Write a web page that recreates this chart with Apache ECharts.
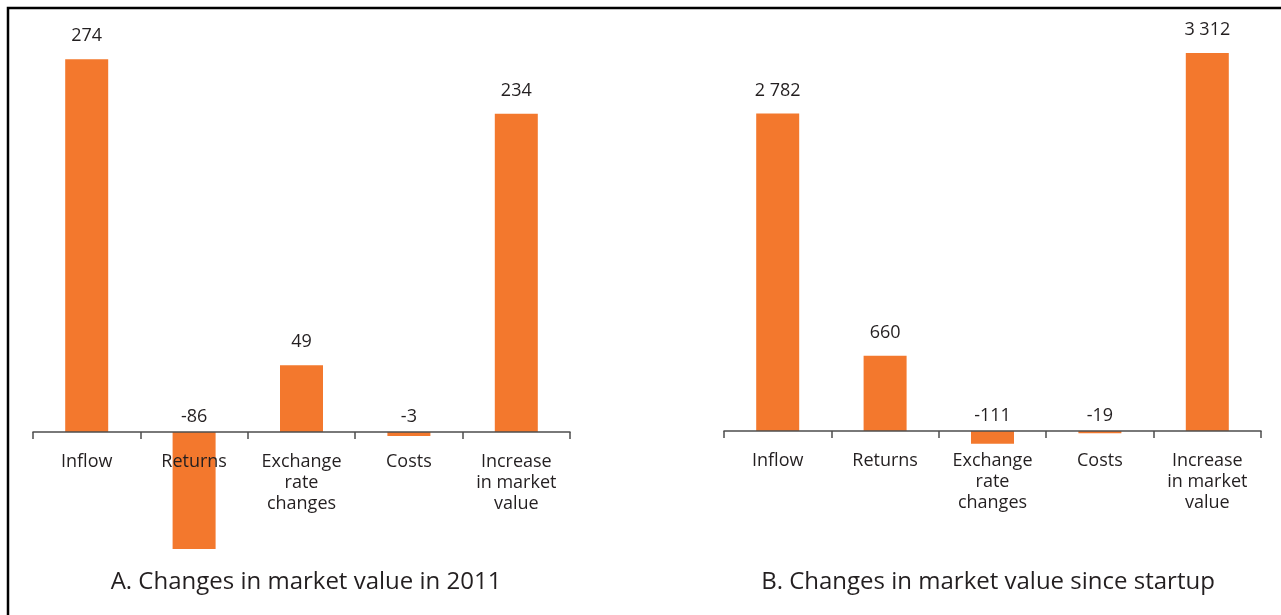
<!DOCTYPE html>
<html>
<head>
<meta charset="utf-8">
<script src="https://cdn.jsdelivr.net/npm/echarts@6/dist/echarts.min.js"></script>
<style>
  html, body { margin: 0; padding: 0; background: #fff; }
  #main { width: 1281px; height: 615px; }
</style>
</head>
<body>
<div id="main"></div>
<script>
var categories = ['Inflow', 'Returns', 'Exchange\nrate\nchanges', 'Costs', 'Increase\nin market\nvalue'];
var values2011 = [274, -86, 49, -3, 234];
var valuesStartup = [2782, 660, -111, -19, 3312];
var titleA = 'A. Changes in market value in 2011';
var titleB = 'B. Changes in market value since startup';

var barColor = '#f3782d';
var textColor = '#231f20';
var font = 'Open Sans';

// value ranges / grid boxes per panel
var gridA = { left: 33, width: 537, top: 24, height: 544, min: -100, max: 300 };
var gridB = { left: 724, width: 537, top: 20, height: 548, min: -1200, max: 3600 };

function fmt(v) {
  // space as thousands separator
  var s = String(Math.abs(v)).replace(/\B(?=(\d{3})+(?!\d))/g, ' ');
  return (v < 0 ? '-' : '') + s;
}

function barData(vals) {
  return vals.map(function (v) {
    return {
      value: v,
      label: { position: 'top', distance: v < 0 ? 6 : 14 }
    };
  });
}

function xAxisFor(idx, g) {
  // put the category axis on the zero line
  var zeroOffset = -g.height * (0 - g.min) / (g.max - g.min);
  return {
    type: 'category',
    gridIndex: idx,
    data: categories,
    position: 'bottom',
    offset: zeroOffset,
    z: 5,
    axisLine: { onZero: false, lineStyle: { color: '#4d4d4d', width: 1.5 } },
    axisTick: { show: true, length: 7, lineStyle: { color: '#4d4d4d', width: 1.5 } },
    axisLabel: {
      color: textColor, fontFamily: font, fontSize: 18, lineHeight: 21,
      margin: 19, interval: 0, align: 'center'
    }
  };
}

function gridFor(g) {
  return { left: g.left, width: g.width, top: g.top, height: g.height, outerBoundsMode: 'none', containLabel: false };
}

function seriesFor(idx, vals) {
  return {
    type: 'bar', xAxisIndex: idx, yAxisIndex: idx, barWidth: 43,
    z: 2,
    data: barData(vals),
    itemStyle: { color: barColor },
    label: {
      show: true, color: textColor, fontFamily: font, fontSize: 18,
      formatter: function (p) { return fmt(p.value); }
    }
  };
}

var chart = echarts.init(document.getElementById('main'), null, { renderer: 'canvas' });

var option = {
  animation: false,
  title: [
    { text: titleA, left: 301, top: 565, textAlign: 'center',
      textStyle: { color: textColor, fontFamily: font, fontSize: 24, fontWeight: 'normal' } },
    { text: titleB, left: 983, top: 565, textAlign: 'center',
      textStyle: { color: textColor, fontFamily: font, fontSize: 24, fontWeight: 'normal' } }
  ],
  grid: [gridFor(gridA), gridFor(gridB)],
  xAxis: [xAxisFor(0, gridA), xAxisFor(1, gridB)],
  yAxis: [
    { type: 'value', gridIndex: 0, min: gridA.min, max: gridA.max, show: false, splitLine: { show: false } },
    { type: 'value', gridIndex: 1, min: gridB.min, max: gridB.max, show: false, splitLine: { show: false } }
  ],
  series: [seriesFor(0, values2011), seriesFor(1, valuesStartup)],
  graphic: [
    {
      type: 'rect',
      shape: { x: 8, y: 8, width: 1400, height: 800 },
      style: { fill: 'none', stroke: '#000', lineWidth: 2.5 },
      silent: true
    }
  ]
};

chart.setOption(option);
</script>
</body>
</html>
